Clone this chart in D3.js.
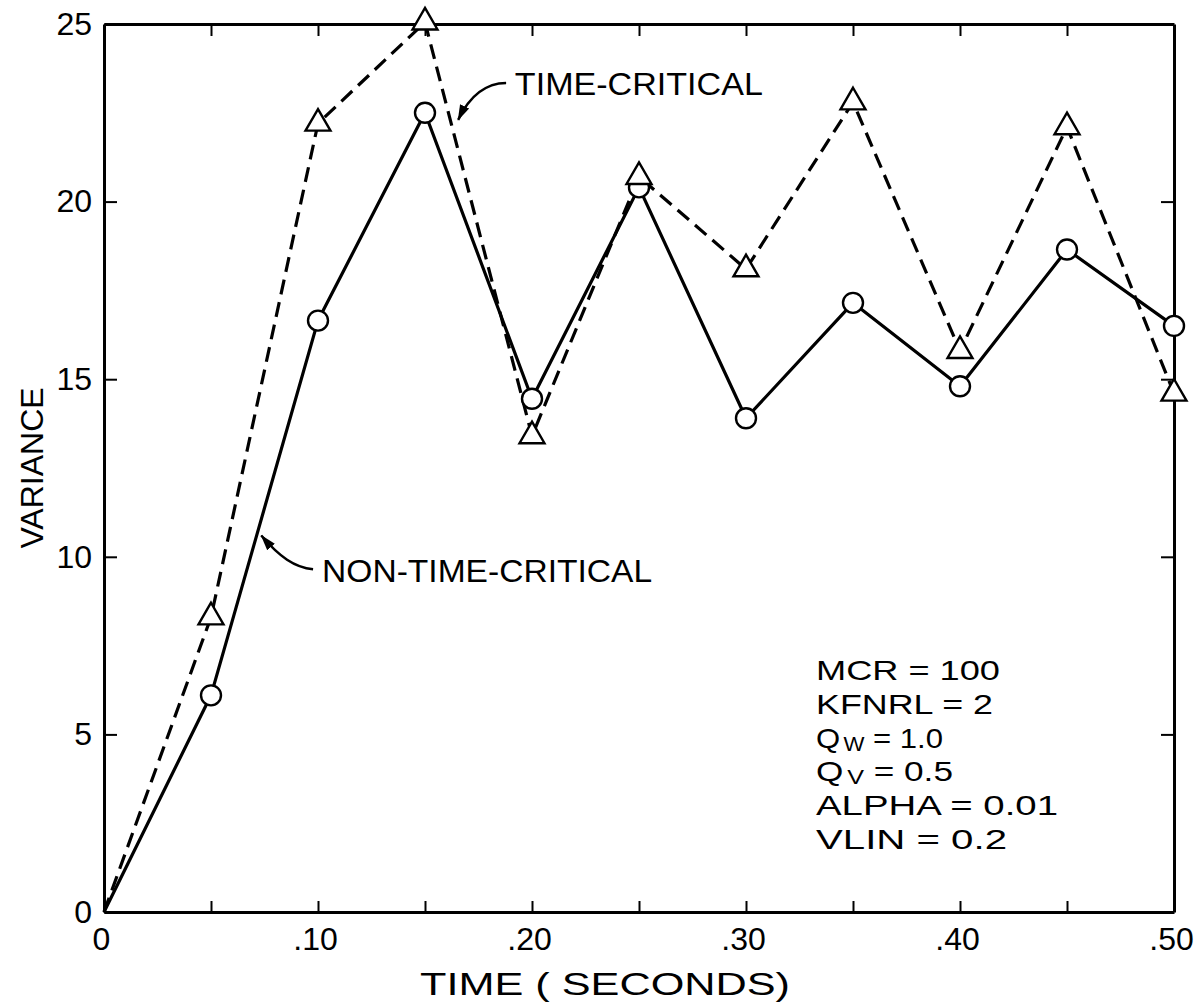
<!DOCTYPE html>
<html>
<head>
<meta charset="utf-8">
<script src="https://cdn.jsdelivr.net/npm/d3@7"></script>
<style>
  body { margin: 0; background: #fff; }
  text { font-family: "Liberation Sans", Arial, sans-serif; fill: #000; }
</style>
</head>
<body>
<svg width="1194" height="1003"></svg>
<script>
  // data
  const times = [0, 0.05, 0.10, 0.15, 0.20, 0.25, 0.30, 0.35, 0.40, 0.45, 0.50];
  const timeCritical = [0, 8.3, 22.2, 25.05, 13.4, 20.7, 18.1, 22.8, 15.8, 22.1, 14.6];
  const nonTimeCritical = [0, 6.1, 16.65, 22.5, 14.45, 20.4, 13.9, 17.15, 14.8, 18.65, 16.5];

  const xTicks = [0, 0.05, 0.10, 0.15, 0.20, 0.25, 0.30, 0.35, 0.40, 0.45, 0.50];
  const yTicks = [0, 5, 10, 15, 20, 25];

  const paramNames = ["MCR", "KFNRL", "Q", "Q", "ALPHA", "VLIN"];
  const paramSubs = ["", "", "W", "V", "", ""];
  const paramValues = ["100", "2", "1.0", "0.5", "0.01", "0.2"];

  const svg = d3.select("svg"),
      width = +svg.attr("width"),
      height = +svg.attr("height");

  const x = d3.scaleLinear().domain([0, 0.5]).range([104, 1174]);
  const y = d3.scaleLinear().domain([0, 25]).range([912, 24]);

  // arrow head for the labels
  svg.append("defs").append("marker")
      .attr("id", "head")
      .attr("markerUnits", "userSpaceOnUse")
      .attr("markerWidth", 16)
      .attr("markerHeight", 12)
      .attr("viewBox", "0 -6 16 12")
      .attr("refX", 15)
      .attr("refY", 0)
      .attr("orient", "auto")
      .append("path")
      .attr("d", "M0,-5L16,0L0,5Z")
      .attr("fill", "#000");

  const xfmt = d => d === 0 ? "0" : (Math.round(d * 100) % 10 === 0 ? d3.format(".2f")(d).replace(/^0/, "") : "");

  // axes: ticks point inwards on all four sides
  const gx = svg.append("g")
      .attr("transform", `translate(0,${y(0)})`)
      .call(d3.axisBottom(x).tickValues(xTicks).tickSize(-11).tickSizeOuter(0).tickPadding(15).tickFormat(xfmt));
  const gy = svg.append("g")
      .attr("transform", `translate(${x(0)},0)`)
      .call(d3.axisLeft(y).tickValues(yTicks).tickSize(-13).tickSizeOuter(0).tickPadding(12));
  const gt = svg.append("g")
      .attr("transform", `translate(0,${y(25)})`)
      .call(d3.axisTop(x).tickValues(xTicks.slice(1, -1)).tickSize(-12).tickSizeOuter(0).tickFormat(""));
  const gr = svg.append("g")
      .attr("transform", `translate(${x(0.5)},0)`)
      .call(d3.axisRight(y).tickValues(yTicks.slice(1, -1)).tickSize(-13).tickSizeOuter(0).tickFormat(""));

  [gx, gy, gt, gr].forEach(g => {
    g.select(".domain").attr("stroke", "#000").attr("stroke-width", 3);
    g.selectAll(".tick line").attr("stroke", "#000").attr("stroke-width", 2);
    g.selectAll(".tick text").attr("font-size", 32).attr("font-family", null).attr("fill", "#000");
  });
  gx.selectAll(".tick text").attr("dx", -3);

  // axis titles
  svg.append("text")
      .attr("x", 605)
      .attr("y", 995)
      .attr("text-anchor", "middle")
      .attr("font-size", 32)
      .attr("textLength", 370)
      .attr("lengthAdjust", "spacingAndGlyphs")
      .text("TIME ( SECONDS)");
  svg.append("text")
      .attr("transform", `translate(43,${y(12.5)}) rotate(-90)`)
      .attr("text-anchor", "middle")
      .attr("font-size", 32)
      .text("VARIANCE");

  // series lines
  const line = d3.line()
      .x((d, i) => x(times[i]))
      .y(d => y(d));

  svg.append("path")
      .datum(nonTimeCritical)
      .attr("d", line)
      .attr("fill", "none")
      .attr("stroke", "#000")
      .attr("stroke-width", 3.2)
      .attr("stroke-linejoin", "round");

  svg.append("path")
      .datum(timeCritical)
      .attr("d", line)
      .attr("fill", "none")
      .attr("stroke", "#000")
      .attr("stroke-width", 3.2)
      .attr("stroke-dasharray", "15,8");

  // markers (skip the origin)
  svg.append("g")
      .selectAll("circle")
      .data(nonTimeCritical.slice(1))
      .join("circle")
      .attr("cx", (d, i) => x(times[i + 1]))
      .attr("cy", d => y(d))
      .attr("r", 10)
      .attr("fill", "#fff")
      .attr("stroke", "#000")
      .attr("stroke-width", 2.4);

  svg.append("g")
      .selectAll("path")
      .data(timeCritical.slice(1))
      .join("path")
      .attr("d", d3.symbol(d3.symbolTriangle, 270))
      .attr("transform", (d, i) => `translate(${x(times[i + 1])},${y(d)})`)
      .attr("fill", "#fff")
      .attr("stroke", "#000")
      .attr("stroke-width", 2.4);

  // curve labels with arrows
  const curve = (x0, y0, x1, y1, x2, y2, x3, y3) => {
    const p = d3.path();
    p.moveTo(x(x0), y(y0));
    p.bezierCurveTo(x(x1), y(y1), x(x2), y(y2), x(x3), y(y3));
    return p.toString();
  };

  svg.append("path")
      .attr("d", curve(0.1879, 23.34, 0.179, 23.34, 0.171, 23.0, 0.1655, 22.3))
      .attr("fill", "none")
      .attr("stroke", "#000")
      .attr("stroke-width", 2.5)
      .attr("marker-end", "url(#head)");
  svg.append("text")
      .attr("x", x(0.192))
      .attr("y", y(23.0))
      .attr("font-size", 32)
      .attr("textLength", 248)
      .attr("lengthAdjust", "spacingAndGlyphs")
      .text("TIME-CRITICAL");

  svg.append("path")
      .attr("d", curve(0.0977, 9.65, 0.089, 9.7, 0.082, 10.0, 0.0735, 10.6))
      .attr("fill", "none")
      .attr("stroke", "#000")
      .attr("stroke-width", 2.5)
      .attr("marker-end", "url(#head)");
  svg.append("text")
      .attr("x", x(0.1019))
      .attr("y", y(9.29))
      .attr("font-size", 32)
      .attr("textLength", 330)
      .attr("lengthAdjust", "spacingAndGlyphs")
      .text("NON-TIME-CRITICAL");

  // parameter block
  const paramWidths = [184, 177, 127, 137, 242, 191];
  const pg = svg.append("g");
  paramNames.forEach((name, i) => {
    const t = pg.append("text")
        .attr("x", 816)
        .attr("y", 680 + i * 33.8)
        .attr("font-size", 28)
        .attr("textLength", paramWidths[i])
        .attr("lengthAdjust", "spacingAndGlyphs");
    t.append("tspan").text(name);
    if (paramSubs[i]) {
      t.append("tspan").attr("font-size", 20).attr("dy", 3).attr("dx", 3).text(paramSubs[i]);
      t.append("tspan").attr("dy", -3).text(" = " + paramValues[i]);
    } else {
      t.append("tspan").text(" = " + paramValues[i]);
    }
  });
</script>
</body>
</html>
